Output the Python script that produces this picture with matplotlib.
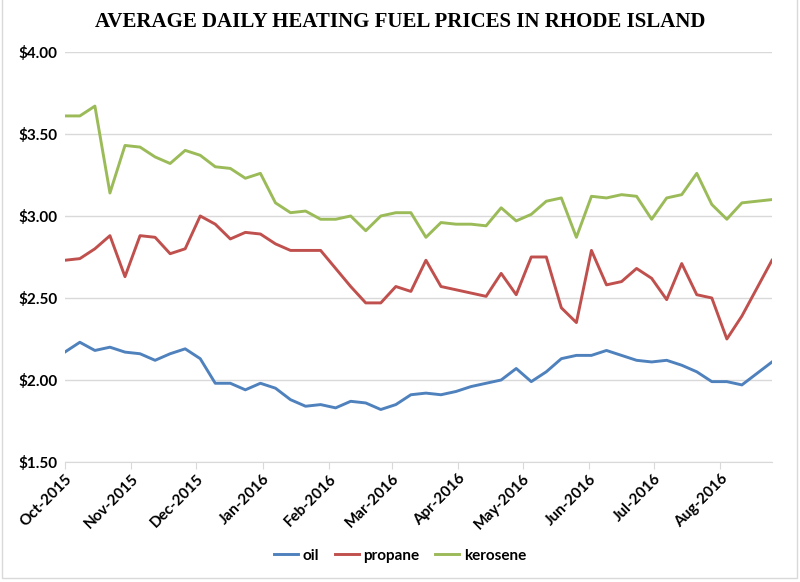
import pandas as pd
import matplotlib
matplotlib.use("Agg")
import matplotlib.pyplot as plt
import matplotlib.dates as mdates
from matplotlib.patches import Rectangle
from matplotlib.ticker import FuncFormatter, MultipleLocator

# DATA (weekly survey)
dates = pd.date_range("2015-10-01", periods=48, freq="7D")

oil = [
    2.17, 2.23, 2.18, 2.20, 2.17, 2.16, 2.12, 2.16, 2.19, 2.13,
    1.98, 1.98, 1.94, 1.98, 1.95, 1.88, 1.84, 1.85, 1.83, 1.87,
    1.86, 1.82, 1.85, 1.91, 1.92, 1.91, 1.93, 1.96, 1.98, 2.00,
    2.07, 1.99, 2.05, 2.13, 2.15, 2.15, 2.18, 2.15, 2.12, 2.11,
    2.12, 2.09, 2.05, 1.99, 1.99, 1.97, 2.04, 2.11,
]

propane = [
    2.73, 2.74, 2.80, 2.88, 2.63, 2.88, 2.87, 2.77, 2.80, 3.00,
    2.95, 2.86, 2.90, 2.89, 2.83, 2.79, 2.79, 2.79, 2.68, 2.57,
    2.47, 2.47, 2.57, 2.54, 2.73, 2.57, 2.55, 2.53, 2.51, 2.65,
    2.52, 2.75, 2.75, 2.44, 2.35, 2.79, 2.58, 2.60, 2.68, 2.62,
    2.49, 2.71, 2.52, 2.50, 2.25, 2.39, 2.56, 2.73,
]

kerosene = [
    3.61, 3.61, 3.67, 3.14, 3.43, 3.42, 3.36, 3.32, 3.40, 3.37,
    3.30, 3.29, 3.23, 3.26, 3.08, 3.02, 3.03, 2.98, 2.98, 3.00,
    2.91, 3.00, 3.02, 3.02, 2.87, 2.96, 2.95, 2.95, 2.94, 3.05,
    2.97, 3.01, 3.09, 3.11, 2.87, 3.12, 3.11, 3.13, 3.12, 2.98,
    3.11, 3.13, 3.26, 3.07, 2.98, 3.08, 3.09, 3.10,
]

series_names = ["oil", "propane", "kerosene"]
colors = ["#4f81bd", "#c0504d", "#9bbb59"]

# FIGURE
fig = plt.figure(figsize=(8, 5.82), dpi=100)
ax = fig.add_axes([0.081, 0.2062, 0.884, 0.7045])

for name, values, color in zip(series_names, [oil, propane, kerosene], colors):
    ax.plot(dates, values, color=color, linewidth=2.1, label=name)

ax.set_xlim(dates[0], dates[-1])
ax.set_ylim(1.5, 4.0)
ax.yaxis.set_major_locator(MultipleLocator(0.5))
ax.yaxis.set_major_formatter(FuncFormatter(lambda v, p: f"${v:.2f}"))

ax.xaxis.set_major_locator(mdates.MonthLocator())
ax.xaxis.set_major_formatter(mdates.DateFormatter("%b-%Y"))

ax.grid(axis="y", color="#d9d9d9", linewidth=1)
ax.set_axisbelow(True)
for side in ["left", "right", "top"]:
    ax.spines[side].set_visible(False)
ax.spines["bottom"].set_color("#d9d9d9")

ax.tick_params(axis="y", length=0, pad=5)
ax.tick_params(axis="x", length=5, color="#d9d9d9", pad=2)

for lbl in ax.get_yticklabels():
    lbl.set_fontfamily("Lato")
    lbl.set_fontweight("bold")
    lbl.set_fontsize(11)
for lbl in ax.get_xticklabels():
    lbl.set_fontfamily("Lato")
    lbl.set_fontweight("bold")
    lbl.set_fontsize(11)
    lbl.set_rotation(45)
    lbl.set_ha("right")
    lbl.set_rotation_mode("anchor")

fig.text(0.5, 0.963, "AVERAGE DAILY HEATING FUEL PRICES IN RHODE ISLAND",
         ha="center", va="center", fontfamily="Liberation Serif",
         fontweight="bold", fontsize=15)

fig.legend(loc="center", bbox_to_anchor=(0.5, 0.045), ncol=3, frameon=False,
           handlelength=1.6, handletextpad=0.3, columnspacing=1.0,
           prop={"family": "Lato", "weight": "bold", "size": 11})

# chart border
fig.patches.append(Rectangle((0.0025, 0.007), 0.994, 1.0, transform=fig.transFigure,
                             fill=False, edgecolor="#d9d9d9", linewidth=1))

fig.savefig("out.png", dpi=100)
